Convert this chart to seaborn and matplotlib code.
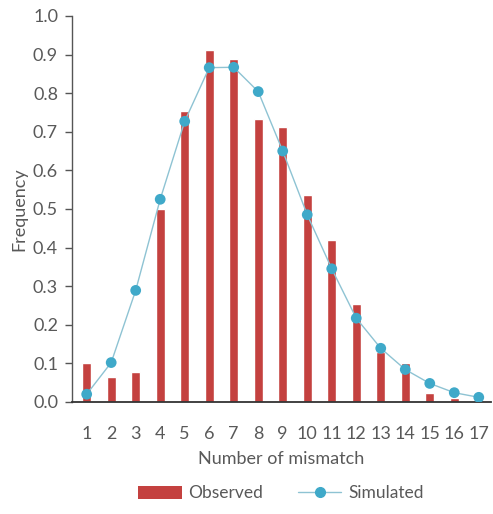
import matplotlib
matplotlib.use("Agg")
import matplotlib.pyplot as plt
import seaborn as sns
import pandas as pd
from matplotlib.patches import Patch
from matplotlib.lines import Line2D

mismatch = list(range(1, 18))
observed = [0.100, 0.065, 0.077, 0.500, 0.753, 0.911, 0.889, 0.733, 0.712,
            0.535, 0.420, 0.255, 0.130, 0.100, 0.022, 0.010, 0.000]
simulated = [0.020, 0.102, 0.289, 0.525, 0.727, 0.866, 0.867, 0.804, 0.650,
             0.485, 0.345, 0.217, 0.139, 0.084, 0.048, 0.024, 0.012]
yticks = [0.0, 0.1, 0.2, 0.3, 0.4, 0.5, 0.6, 0.7, 0.8, 0.9, 1.0]

df = pd.DataFrame({"mismatch": mismatch, "Observed": observed, "Simulated": simulated})

sns.set_theme(style="white")
plt.rcParams["font.family"] = ["Lato", "DejaVu Sans"]

bar_color = "#C4413F"
dot_color = "#3FA9C9"
line_color = "#8EC3D3"
text_color = "#595959"

fig = plt.figure(figsize=(4.93, 5.14), dpi=100)
ax = fig.add_axes([0.146, 0.218, 0.85, 0.751])

sns.barplot(data=df, x="mismatch", y="Observed", native_scale=True, width=0.36,
            color=bar_color, saturation=1, ax=ax, zorder=2)
sns.lineplot(data=df, x="mismatch", y="Simulated", color=line_color, linewidth=1.0,
             ax=ax, zorder=3)
sns.scatterplot(data=df, x="mismatch", y="Simulated", color=dot_color, s=60,
                edgecolor="none", ax=ax, zorder=4)

ax.set_xlim(0.4, 17.5)
ax.set_ylim(0, 1.0)
ax.set_yticks(yticks)
ax.set_yticklabels([f"{v:.1f}" for v in yticks])
ax.set_xticks(mismatch)
ax.set_xticklabels([str(m) for m in mismatch])

for s in ["top", "right"]:
    ax.spines[s].set_visible(False)
ax.spines["left"].set_color("#555555")
ax.spines["left"].set_linewidth(1.0)
ax.spines["bottom"].set_color("#333333")
ax.spines["bottom"].set_linewidth(1.3)

ax.tick_params(axis="y", direction="out", length=5, width=1, color="#555555",
               labelsize=13, labelcolor=text_color, pad=5)
ax.tick_params(axis="x", length=0, labelsize=13, labelcolor=text_color, pad=17)
ax.yaxis.tick_left()

ax.set_xlabel("Number of mismatch", fontsize=13, color=text_color, labelpad=7)
ax.set_ylabel("Frequency", fontsize=13, color=text_color, labelpad=4)

handles = [Patch(facecolor=bar_color, edgecolor="none"),
           Line2D([0], [0], color=line_color, lw=1.0, marker="o",
                  markerfacecolor=dot_color, markeredgecolor=dot_color, markersize=7)]
leg = fig.legend(handles, ["Observed", "Simulated"], loc="center",
                 bbox_to_anchor=(0.57, 0.04), ncol=2, frameon=False,
                 fontsize=12.5, handlelength=2.5, handleheight=0.8,
                 columnspacing=2.0, handletextpad=0.4)
for t in leg.get_texts():
    t.set_color(text_color)

fig.savefig("out.png", dpi=100)
